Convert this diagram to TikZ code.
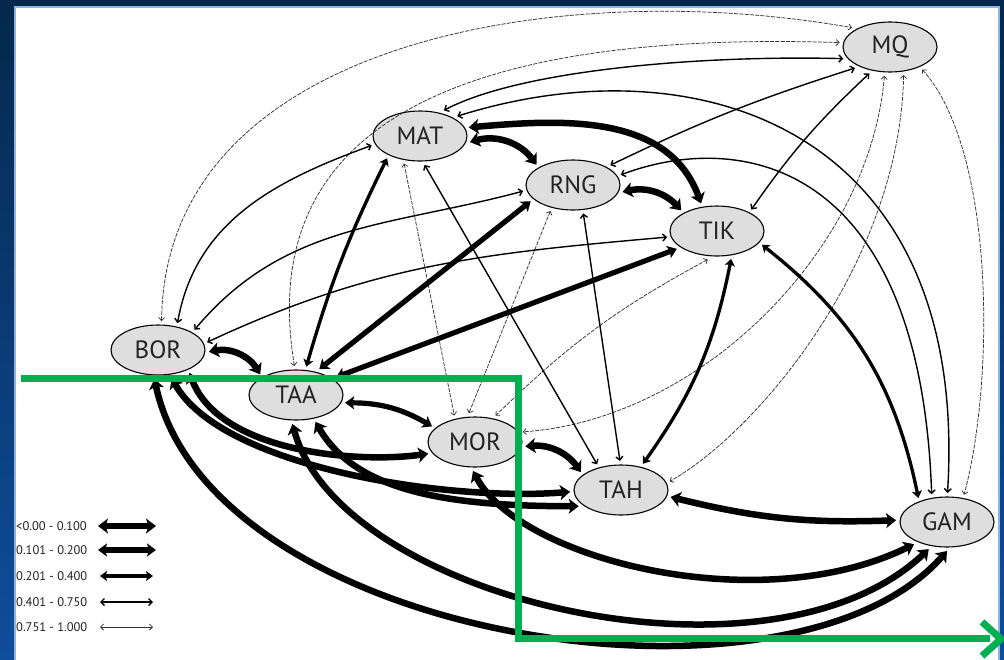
\documentclass[tikz,border=0pt]{standalone}
\usepackage{fontspec}
\usetikzlibrary{shapes.geometric,arrows.meta}
\newfontfamily\nodefont{PT Sans}
\definecolor{bgtop}{HTML}{05284C}
\definecolor{bgbot}{HTML}{0F4E9C}
\definecolor{panelb}{HTML}{8DB3E2}
\definecolor{grn}{HTML}{00B050}
\definecolor{nodefill}{HTML}{DEDEDE}
\definecolor{txt}{HTML}{222222}
\tikzset{
  nd/.style={ellipse, draw=black, line width=1.1pt, fill=nodefill, minimum width=94pt, minimum height=50pt, inner sep=0pt, outer sep=4pt, text=txt, font=\nodefont\fontsize{25}{28}\selectfont},
  lg/.style={anchor=west, inner sep=0pt, text=txt, font=\nodefont\fontsize{12.5}{14}\selectfont},
  ea/.style={line width=6.5pt, {Stealth[length=10pt,width=15pt,inset=2.5pt]}-{Stealth[length=10pt,width=15pt,inset=2.5pt]}},
  eb/.style={line width=5.2pt, {Stealth[length=9pt,width=13pt,inset=2pt]}-{Stealth[length=9pt,width=13pt,inset=2pt]}},
  ec/.style={line width=3.3pt, {Stealth[length=7pt,width=10pt,inset=1.5pt]}-{Stealth[length=7pt,width=10pt,inset=1.5pt]}},
  ed/.style={line width=1.4pt, {Straight Barb[length=3.5pt,width=7pt]}-{Straight Barb[length=3.5pt,width=7pt]}},
  ee/.style={line width=0.75pt, draw=black!80, dash pattern=on 4pt off 1.3pt, {Straight Barb[length=3pt,width=6pt]}-{Straight Barb[length=3pt,width=6pt]}},
  eesolid/.style={line width=0.75pt, draw=black!80, {Straight Barb[length=3pt,width=6pt]}-{Straight Barb[length=3pt,width=6pt]}},
  grline/.style={draw=grn, line width=7pt, line join=miter}
}
\begin{document}
\begin{tikzpicture}[x=1pt,y=-1pt]
\useasboundingbox (0,0) rectangle (1004,659);
% background
\shade[top color=bgtop, bottom color=bgbot] (0,0) rectangle (1004,659);
\fill[white] (15,7) rectangle (999,662);
\draw[panelb, line width=1.5pt] (15,7) rectangle (999,662);

% nodes
\node[nd] (MQ)  at (890,47)  {MQ};
\node[nd] (MAT) at (420,136) {MAT};
\node[nd] (RNG) at (573,185) {RNG};
\node[nd] (TIK) at (717,231) {TIK};
\node[nd] (BOR) at (158,350) {BOR};
\node[nd] (TAA) at (296,395) {TAA};
\node[nd] (MOR) at (475,442) {MOR};
\node[nd] (TAH) at (621,490) {TAH};
\node[nd] (GAM) at (947,522) {GAM};

% thinnest edges
\draw[ee] (BOR.83) .. controls (165,40) and (560,-24) .. (MQ.153);
\draw[ee] (TAA.93) .. controls (255,130) and (450,30) .. (MQ.175);
\draw[ee] (MQ.-101) .. controls (870,250) and (700,420) .. (MOR.12);
\draw[ee] (MQ.-64) .. controls (900,260) and (760,430) .. (TAH.10);
\draw[ee] (MQ.-35) .. controls (995,150) and (995,380) .. (GAM.58);
\draw[ee] (TIK.-108) to[bend right=8] (MOR.52);
\draw[ee] (RNG.229) -- (MOR.102);
\draw[ee] (MAT.240) -- (MOR.128);

% medium edges
\draw[ed] (MAT.47) .. controls (520,70) and (700,55) .. (MQ.194);
\draw[ed] (MAT.28) .. controls (700,40) and (970,130) .. (GAM.89);
\draw[ed] (RNG.12) .. controls (740,130) and (920,160) .. (GAM.119);
\draw[ed] (RNG.28) to[bend left=4] (MQ.211);
\draw[ed] (MQ.232) to[bend right=6] (TIK.32);
\draw[ed] (BOR.54) to[out=80,in=200] (MAT.191);
\draw[ed] (BOR.29) to[out=50,in=195] (RNG.187);
\draw[ed] (BOR.9) to[out=25,in=185] (TIK.187);
\draw[ed] (MAT.-81) -- (TAH.133);
\draw[ed] (RNG.-70) -- (TAH.92);

% thick edges
\draw[ea] (MAT.-7) to[bend left=35] (RNG.151);
\draw[ea] (MAT.10) to[out=5,in=110] (TIK.120);
\draw[ea] (RNG.-8) to[bend left=30] (TIK.150);
\draw[ea] (BOR.-2) to[bend left=35] (TAA.150);
\draw[eb] (TAA.-9) to[bend left=15] (MOR.160);
\draw[ea] (MOR.-5) to[bend left=30] (TAH.156);
\draw[ea] (TAH.-8) to[bend right=8] (GAM.178);
\draw[ec] (TAA.70) to[bend left=5] (MAT.214);
\draw[eb] (TAA.48) -- (RNG.201);
\draw[eb] (TAA.24) -- (TIK.204);
\draw[ec] (TIK.-63) to[bend left=12] (TAH.50);
\draw[ec] (TIK.-17) to[bend left=20] (GAM.140);
\draw[ea] (BOR.-36) .. controls +(30,80) and +(-70,10) .. (MOR.194);
\draw[ea] (BOR.-64) .. controls +(50,90) and +(-120,10) .. (TAH.182);
\draw[ea] (TAA.-54) .. controls +(40,70) and +(-130,0) .. (TAH.201);
\draw[ea] (BOR.-97) .. controls (210,640) and (790,730) .. (GAM.-90);
\draw[ea] (TAA.-97) .. controls (340,600) and (770,700) .. (GAM.-124);
\draw[ea] (MOR.-94) .. controls (520,560) and (760,620) .. (GAM.-146);

% legend
\node[lg] (L1) at (16,526) {<0.00 - 0.100};
\node[lg] (L2) at (16,550) {0.101 - 0.200};
\node[lg] (L3) at (16,576) {0.201 - 0.400};
\node[lg] (L4) at (16,602) {0.401 - 0.750};
\node[lg] (L5) at (16,627) {0.751 - 1.000};
\coordinate (a1) at (98,526);  \coordinate (b1) at (156,526);
\coordinate (a2) at (98,550);  \coordinate (b2) at (156,550);
\coordinate (a3) at (100,576); \coordinate (b3) at (153,576);
\coordinate (a4) at (100,602); \coordinate (b4) at (153,602);
\coordinate (a5) at (100,627); \coordinate (b5) at (153,627);
\draw[ea] (a1) -- (b1);
\draw[eb] (a2) -- (b2);
\draw[ec] (a3) -- (b3);
\draw[ed] (a4) -- (b4);
\draw[eesolid] (a5) -- (b5);

% green overlay
\coordinate (g0) at (21,378);
\coordinate (g1) at (518,378);
\coordinate (g2) at (518,638);
\coordinate (g3) at (990,638);
\coordinate (h1) at (982,622);
\coordinate (h2) at (1001,639);
\coordinate (h3) at (982,656);
\draw[grline] (g0) -- (g1) -- (g2) -- (g3);
\draw[grline] (h1) -- (h2) -- (h3);
\end{tikzpicture}
\end{document}
